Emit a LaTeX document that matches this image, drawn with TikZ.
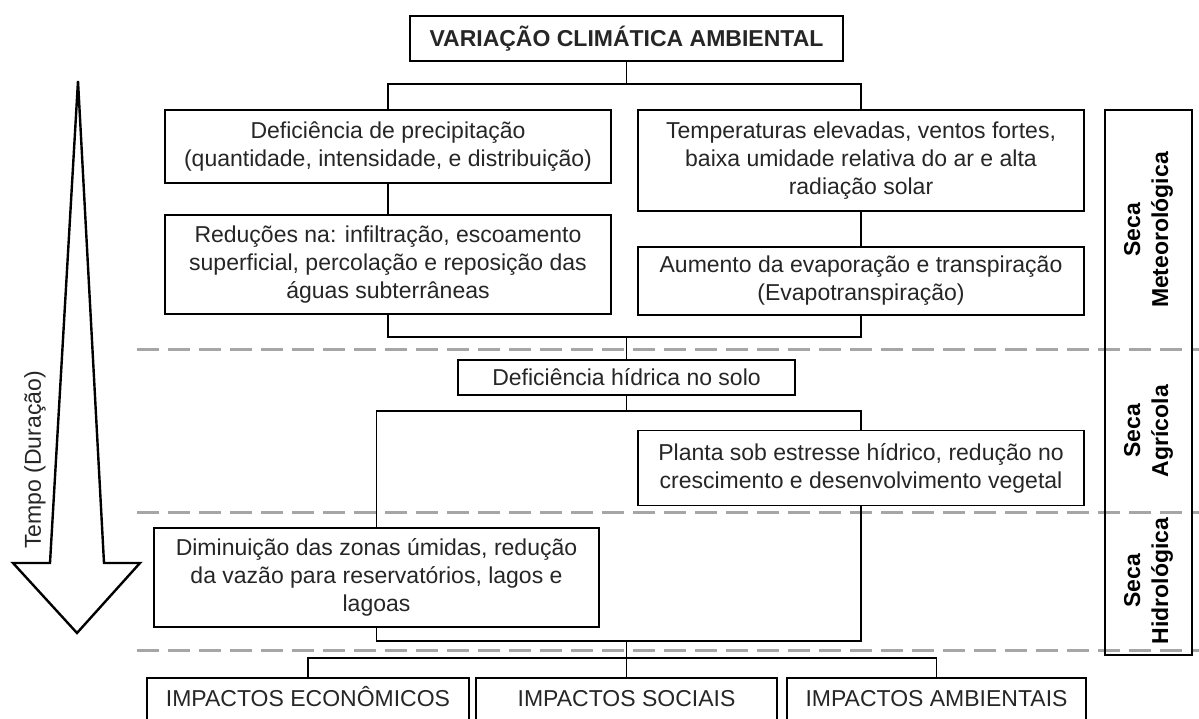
\documentclass[tikz,border=0pt]{standalone}
\usepackage{fontspec}
\setmainfont{Liberation Sans}
\tikzset{
  caixa/.style={draw=black, line width=1.4pt, fill=white, align=center, inner sep=2pt,
    text=black!85, font=\fontsize{23}{28}\selectfont},
  titulo/.style={caixa, font=\fontsize{23}{28}\selectfont\bfseries},
  impacto/.style={caixa, minimum height=44, text height=17pt, text depth=5pt},
  rotulo/.style={rotate=90, align=center, inner sep=0pt, font=\fontsize{23}{28}\selectfont\bfseries},
  liga/.style={draw=black, line width=1.4pt},
  faixa/.style={draw=gray!70, line width=3pt, dash pattern=on 22pt off 9pt},
  seta/.style={draw=black, line width=2.4pt, line join=miter, fill=white},
}

\begin{document}
\begin{tikzpicture}[x=1pt,y=-1pt]
	\useasboundingbox (0,0) rectangle (1199,718);
	\clip (0,0) rectangle (1199,718);
	% time arrow
	\draw[seta] (78,81) -- (104,563) -- (140,563) -- (77,633) -- (13,563) -- (50,563) -- cycle;
	\node[rotate=90, inner sep=0pt, text=black!85, font=\fontsize{23}{28}\selectfont] (tempo) at (35,460) {Tempo (Duração)};
	% phase limits
	\draw[faixa] (137,349) -- (1199,349);
	\draw[faixa] (137,512) -- (1199,512);
	\draw[faixa] (137,650) -- (1199,650);
	% drought types
	\draw[line width=1.4pt] (1105,110) rectangle (1192,655);
	\node[rotulo] (meteo) at (1148.5,230) {Seca\\Meteorológica};
	\node[rotulo] (agric) at (1148.5,431) {Seca\\Agrícola};
	\node[rotulo] (hidro) at (1148.5,581) {Seca\\Hidrológica};
	% boxes
	\node[titulo, minimum width=433, minimum height=45] (variacao) at (626.5,38.5) {VARIAÇÃO CLIMÁTICA AMBIENTAL};
	\node[caixa, minimum width=446, minimum height=73] (precip) at (388,146.5)
		{Deficiência de precipitação\\(quantidade, intensidade, e distribuição)};
	\node[caixa, minimum width=446, minimum height=101] (temper) at (861,160.5)
		{Temperaturas elevadas, ventos fortes,\\baixa umidade relativa do ar e alta\\radiação solar};
	\node[caixa, minimum width=446, minimum height=99] (reducao) at (388,264.5)
		{Reduções na: infiltração, escoamento\\superficial, percolação e reposição das\\águas subterrâneas};
	\node[caixa, minimum width=446, minimum height=68] (aumento) at (861,281)
		{Aumento da evaporação e transpiração\\(Evapotranspiração)};
	\node[caixa, minimum width=337, minimum height=35] (solo) at (626.5,377.5) {Deficiência hídrica no solo};
	\node[caixa, minimum width=446, minimum height=75] (planta) at (861,468)
		{Planta sob estresse hídrico, redução no\\crescimento e desenvolvimento vegetal};
	\node[caixa, minimum width=445, minimum height=99] (zonas) at (376.5,577.5)
		{Diminuição das zonas úmidas, redução\\da vazão para reservatórios, lagos e\\lagoas};
	\node[impacto, minimum width=322] (econ) at (308,700) {IMPACTOS ECONÔMICOS};
	\node[impacto, minimum width=301] (social) at (626.5,700) {IMPACTOS SOCIAIS};
	\node[impacto, minimum width=299] (ambient) at (936.5,700) {IMPACTOS AMBIENTAIS};
	% junctions
	\coordinate (j0) at (626.5,84);
	\coordinate (j1) at (626.5,337);
	\coordinate (j2) at (626.5,411);
	\coordinate (j3) at (626.5,641);
	\coordinate (j4) at (626.5,658);
	% connectors
	\draw[liga] (variacao) -- (j0);
	\draw[liga] (precip.north) |- (j0) -| (temper.north);
	\draw[liga] (precip) -- (reducao);
	\draw[liga] (temper) -- (aumento);
	\draw[liga] (reducao.south) |- (j1) -| (aumento.south);
	\draw[liga] (j1) -- (solo);
	\draw[liga] (solo) -- (j2);
	\draw[liga] (zonas.north) |- (j2) -| (planta.north);
	\draw[liga] (zonas.south) |- (j3) -| (planta.south);
	\draw[liga] (j3) -- (j4);
	\draw[liga] (econ.north) |- (j4) -| (ambient.north);
	\draw[liga] (j4) -- (social);
\end{tikzpicture}
\end{document}
